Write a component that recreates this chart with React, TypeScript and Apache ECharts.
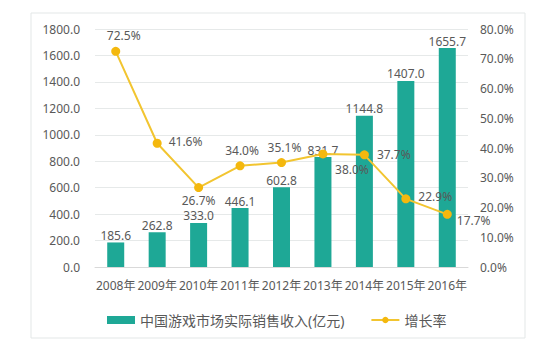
import React, { useEffect, useRef } from "react";
import * as echarts from "echarts";

const categories = ["2008年", "2009年", "2010年", "2011年", "2012年", "2013年", "2014年", "2015年", "2016年"];
const revenue = [185.6, 262.8, 333.0, 446.1, 602.8, 831.7, 1144.8, 1407.0, 1655.7];
const growth = [72.5, 41.6, 26.7, 34.0, 35.1, 38.0, 37.7, 22.9, 17.7];
const barName = "中国游戏市场实际销售收入(亿元)";
const lineName = "增长率";

const labelPos: any[] = [
  { position: "top", offset: [8, 0] },
  { position: "right", offset: [2, -2] },
  { position: "bottom", offset: [0, -3] },
  { position: "top", offset: [2, 0] },
  { position: "top", offset: [3, 0] },
  { position: "bottom", offset: [29, 0] },
  { position: "right", offset: [3, 0] },
  { position: "right", offset: [3, -2] },
  { position: "right", offset: [0, 6] },
];

const FONT = "'Noto Sans', 'Noto Sans CJK SC', sans-serif";
const TXT = "#595959";

export default function App() {
  const ref = useRef<HTMLDivElement>(null);
  useEffect(() => {
    const chart = echarts.init(ref.current!, undefined, { renderer: "svg" });
    chart.setOption({
      animation: false,
      backgroundColor: "#ffffff",
      textStyle: { fontFamily: FONT },
      graphic: [
        {
          type: "rect",
          shape: { x: 31, y: 13, width: 494, height: 325 },
          style: { fill: "none", stroke: "#e3e7e7", lineWidth: 1 },
          silent: true,
        },
      ],
      grid: { left: 95, right: 81, top: 29, bottom: 74 },
      legend: {
        left: 102,
        top: 308,
        itemGap: 26,
        itemWidth: 28,
        itemHeight: 8,
        textStyle: { color: TXT, fontSize: 14, fontFamily: FONT },
        data: [
          { name: barName, icon: "rect" },
          { name: lineName },
        ],
      },
      xAxis: {
        type: "category",
        data: categories,
        axisTick: { show: false },
        axisLine: { lineStyle: { color: "#d9d9d9" } },
        axisLabel: { color: TXT, fontSize: 12, margin: 12, interval: 0, fontFamily: FONT },
      },
      yAxis: [
        {
          type: "value",
          min: 0,
          max: 1800,
          interval: 200,
          axisLine: { show: false },
          axisTick: { show: false },
          splitLine: { lineStyle: { color: "#e6e9e9" } },
          axisLabel: { color: TXT, fontSize: 12, margin: 15, formatter: (v: number) => v.toFixed(1) },
        },
        {
          type: "value",
          min: 0,
          max: 80,
          interval: 10,
          axisLine: { show: false },
          axisTick: { show: false },
          splitLine: { show: false },
          axisLabel: { color: TXT, fontSize: 12, margin: 12, formatter: (v: number) => v.toFixed(1) + "%" },
        },
      ],
      series: [
        {
          name: barName,
          type: "bar",
          data: revenue,
          barWidth: 17,
          itemStyle: { color: "#1ea896" },
          label: {
            show: true,
            position: "top",
            distance: 1,
            color: TXT,
            fontSize: 12,
            formatter: (p: any) => Number(p.value).toFixed(1),
          },
        },
        {
          name: lineName,
          type: "line",
          yAxisIndex: 1,
          data: growth.map((v, i) => ({
            value: v,
            label: { position: labelPos[i].position, offset: labelPos[i].offset },
          })),
          symbol: "circle",
          symbolSize: 9,
          lineStyle: { color: "#f2c530", width: 2 },
          itemStyle: { color: "#f4b80e" },
          label: {
            show: true,
            color: TXT,
            fontSize: 12,
            distance: 5,
            formatter: (p: any) => Number(p.value).toFixed(1) + "%",
          },
          z: 5,
        },
      ],
    });
    return () => chart.dispose();
  }, []);
  return (
    <div
      ref={ref}
      style={{ position: "fixed", left: 0, top: 0, width: 549, height: 341 }}
    />
  );
}
